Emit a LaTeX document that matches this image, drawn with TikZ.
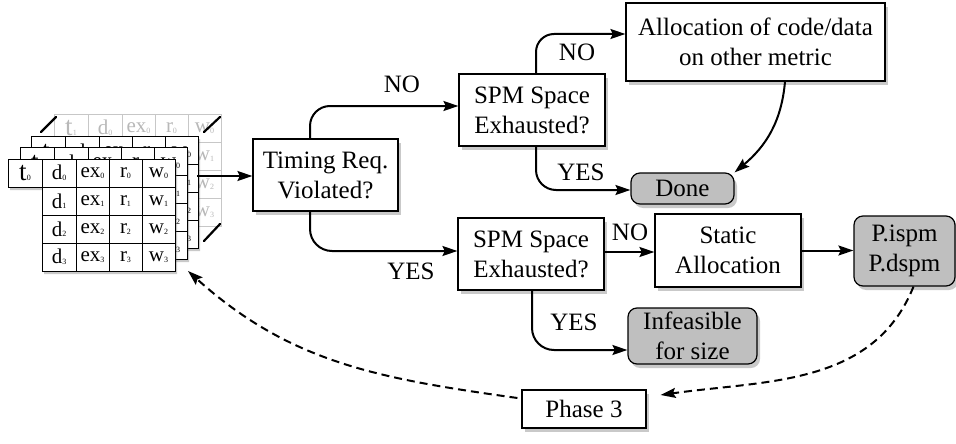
\documentclass[tikz,border=0pt]{standalone}
\usepackage{fontspec}
\setmainfont{Liberation Serif}
\usetikzlibrary{shadows,arrows.meta,calc}
\newcommand\sub[1]{\raisebox{-0.5pt}{\fontsize{8}{8}\selectfont#1}}
\newcommand\mytab[6]{%
\begin{scope}[shift={(#1,#2)}, #3]
 \path[tabshape] (0,0) -- (167,0) -- (167,112) -- (34,112) -- (34,28) -- (0,28) -- cycle;
 \draw[tabgrid] (0,0) rectangle (34,28);
 \draw[tabgrid] (34,0) rectangle (167,112);
 \foreach \xx in {68,101,134} \draw[tabgrid] (\xx,0) -- (\xx,112);
 \foreach \yy in {28,56,84} \draw[tabgrid] (34,\yy) -- (167,\yy);
 \node[celltxt, font=\fontsize{27}{27}\selectfont] (#5t) at (17,14+#6) {t\sub{#4}};
 \foreach \r in {0,...,3} {
   \node[celltxt] (#5d\r) at (51,14+#6+28*\r) {d\sub{\r}};
   \node[celltxt] (#5e\r) at (84.5,14+#6+28*\r) {ex\sub{\r}};
   \node[celltxt] (#5r\r) at (117.5,14+#6+28*\r) {r\sub{\r}};
   \node[celltxt] (#5w\r) at (150.5,14+#6+28*\r) {w\sub{\r}};
 }
\end{scope}}
\begin{document}
\begin{tikzpicture}[x=1pt,y=-1pt,
  every node/.style={font=\fontsize{25}{30}\selectfont},
  box/.style={draw=black, line width=1.2pt, fill=white, align=center, inner sep=0pt,
    drop shadow={shadow xshift=3pt, shadow yshift=-4pt, opacity=0.3, fill=black!70}},
  endbox/.style={box, fill=gray!50, rounded corners=9pt},
  arr/.style={line width=2pt, -{Stealth[length=15pt,width=10pt,inset=2.5pt]}},
  darr/.style={arr, dash pattern=on 8pt off 5pt},
  lbl/.style={inner sep=0pt},
  tabfront/.style={tabshape/.style={fill=white, drop shadow={shadow xshift=2pt, shadow yshift=-3pt, opacity=0.3, fill=black!70}},
    tabgrid/.style={draw=black, line width=1pt},
    celltxt/.style={text=black, inner sep=0pt, font=\fontsize{21}{21}\selectfont}},
  tabghost/.style={tabshape/.style={fill=white},
    tabgrid/.style={draw=black!22, line width=1pt},
    celltxt/.style={text=black!28, inner sep=0pt, font=\fontsize{21}{21}\selectfont}}
]
\useasboundingbox (0,0) rectangle (956,444);

% stacked tables
\mytab{54}{114}{tabghost}{1}{g}{0}
\mytab{31}{136}{tabfront}{2}{c}{2}
\mytab{20}{147}{tabfront}{1}{b}{2}
\mytab{8}{159}{tabfront}{0}{a}{0}
\draw[line width=2.2pt, line cap=round] (41,132) -- (56,117);
\draw[line width=2.2pt, line cap=round] (204,132) -- (220,117);
\draw[line width=2.2pt, line cap=round] (204,241) -- (220,224);
\coordinate (tabout) at (197,176);
\coordinate (tabtip) at (188,271);

% boxes
\node[box, minimum width=145pt, minimum height=72pt] (timing) at (325.5,175) {Timing Req.\\Violated?};
\node[box, minimum width=146pt, minimum height=72pt] (spmtop) at (532,110) {SPM Space\\Exhausted?};
\node[box, minimum width=259pt, minimum height=78pt] (alloc) at (755.5,42) {Allocation of code/data\\on other metric};
\node[endbox, minimum width=103pt, minimum height=31pt] (done) at (682.5,188.5) {Done};
\node[box, minimum width=146pt, minimum height=72pt] (spmbot) at (531,254) {SPM Space\\Exhausted?};
\node[box, minimum width=146pt, minimum height=73pt] (static) at (728,250.5) {Static\\Allocation};
\node[endbox, minimum width=129pt, minimum height=56pt] (infeas) at (692.5,336) {Infeasible\\for size};
\node[endbox, minimum width=101pt, minimum height=70pt] (pisp) at (904.5,251) {P.ispm\\P.dspm};
\node[box, minimum width=124pt, minimum height=38pt] (phase) at (584,409) {Phase 3};

% labels
\node[lbl] (lno1) at (402,84) {NO};
\node[lbl] (lyes1) at (411,271) {YES};
\node[lbl] (lno2) at (577,52) {NO};
\node[lbl] (lyes2) at (581,172) {YES};
\node[lbl] (lno3) at (630,232) {NO};
\node[lbl] (lyes3) at (574,322) {YES};

% connectors
\draw[arr] (tabout) -- (tabout -| timing.west);
\draw[arr, rounded corners=20pt] ([xshift=-15.5pt]timing.north) |- ([yshift=4pt]spmtop.west);
\draw[arr, rounded corners=22pt] ([xshift=-15.5pt]timing.south) |- ([yshift=3pt]spmbot.west);
\draw[arr, rounded corners=18pt] ([xshift=4pt]spmtop.north) |- ([yshift=8pt]alloc.west);
\draw[arr, rounded corners=20pt] ([xshift=4pt]spmtop.south) |- ([yshift=-1.5pt]done.west);
\draw[arr] ([xshift=29.5pt]alloc.south) to[out=-95,in=40] (done.north east);
\draw[arr] ([yshift=2pt]spmbot.east) -- ([yshift=2pt]spmbot.east -| static.west);
\draw[arr, rounded corners=22pt] ([xshift=1pt]spmbot.south) |- ([yshift=-14pt]infeas.west);
\draw[arr] (static.east) -- (static.east -| pisp.west);
\draw[darr] ([xshift=9pt]pisp.south) to[out=-112,in=8] ([xshift=14pt,yshift=14pt]phase.east);
\draw[darr] ([xshift=-4pt,yshift=11pt]phase.west) to[out=172,in=-42] (tabtip);
\end{tikzpicture}
\end{document}
